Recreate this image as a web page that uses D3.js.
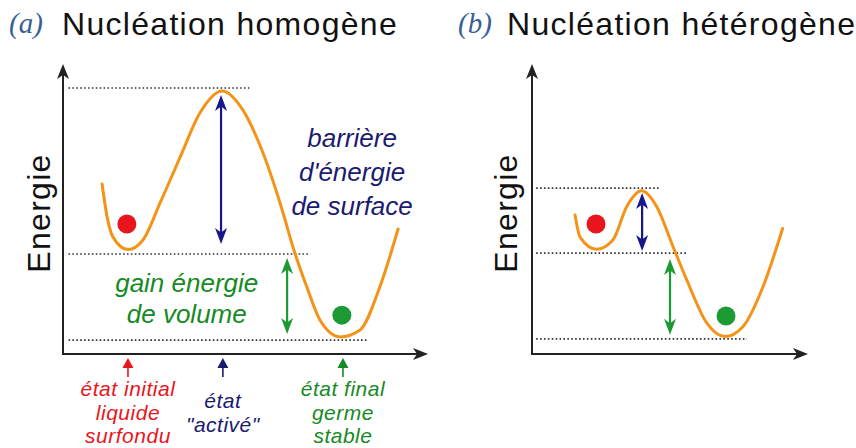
<!DOCTYPE html>
<html><head><meta charset="utf-8">
<script src="https://cdn.jsdelivr.net/npm/d3@7"></script>
<style>body{margin:0;background:#fff} svg{display:block}</style>
</head><body>
<svg id="c" width="856" height="448"></svg>
<script>
// ---------- data ----------
const panelTags = ["(a)", "(b)"];
const panelTitles = ["Nucléation homogène", "Nucléation hétérogène"];
const axisLabel = "Energie";
// curve points: reaction coordinate (0-100), energy (0-100)
const curveAx = [10.7, 12.1, 13.7, 17.8, 21.9, 26.6, 32.1, 37.5, 43.6, 49.3, 54.8, 60.3, 63.0, 66.8, 70.4, 75.9, 81.4, 86.8, 91.8];
const curveAy = [58.6, 47.2, 40.3, 36.0, 39.3, 52.1, 67.9, 83.1, 90.7, 84.1, 69.3, 48.6, 36.9, 23.1, 11.7, 5.9, 8.3, 23.1, 43.1];
const curveBx = [15.6, 17.4, 23.4, 29.3, 34.3, 39.7, 45.2, 51.1, 56.1, 63.3, 69.9, 76.4, 83.7, 90.8];
const curveBy = [47.9, 40.3, 36.1, 39.3, 50.8, 56.3, 50.8, 37.0, 25.5, 10.7, 6.0, 9.4, 23.2, 43.3];
// energy levels (final, initial, activated) and the reach of their dotted guides
const levelsA = [4.8, 34.5, 91.7];
const levelsB = [5.2, 34.8, 57.2];
const levelEndA = [83.6, 67.1, 51.2];
const levelEndB = [77.9, 56.5, 46.4];
// balls: initial (red), final (green)
const ballAx = [17.5, 76.4], ballAy = [44.8, 13.4];
const ballBx = [23.2, 70.3], ballBy = [44.8, 13.1];
// double arrows: barrier (blue), volume gain (green)
const arrowAx = [43.3, 61.4], arrowAlo = [37.9, 6.9], arrowAhi = [89.3, 33.1];
const arrowBx = [39.9, 50.0], arrowBlo = [35.5, 6.6], arrowBhi = [55.5, 32.8];
// annotations
const barrierText = ["barrière", "d'énergie", "de surface"];
const volumeText = ["gain énergie", "de volume"];
const stateLabels = [["état initial", "liquide", "surfondu"], ["état", "\"activé\""], ["état final", "germe", "stable"]];
const stateX = [17.8, 43.8, 76.7];

// ---------- style ----------
const C = {
  curve: "#f39318", red: "#e8161c", green: "#1c9a33", blue: "#17178c",
  navyText: "#1b1b70", greenText: "#168a24", axis: "#222", dots: "#333", tag: "#3a5f92"
};
const stateColors = [C.red, C.navyText, C.greenText];

const svg = d3.select("#c");
const yE = d3.scaleLinear().domain([0, 100]).range([354, 64]);
const xA = d3.scaleLinear().domain([0, 100]).range([63, 428]);
const xB = d3.scaleLinear().domain([0, 100]).range([532, 808]);

function head(g, x, y, dir, color, len, hw, notch) {
  g.append("path")
    .attr("d", `M0,0 L${-len},${-hw} L${-len + notch},0 L${-len},${hw} Z`)
    .attr("transform", `translate(${x},${y}) rotate(${dir})`)
    .attr("fill", color);
}

function panel(x, cx, cy, levels, levelEnd, bx, by, ax, alo, ahi, tag, title, tagX, titleX, labelX) {
  const g = svg.append("g");
  // axes
  g.append("line").attr("x1", x(0)).attr("y1", yE(0)).attr("x2", x(0)).attr("y2", yE(100) + 8)
    .attr("stroke", C.axis).attr("stroke-width", 2);
  g.append("line").attr("x1", x(0) - 1).attr("y1", yE(0)).attr("x2", x(100) - 8).attr("y2", yE(0))
    .attr("stroke", C.axis).attr("stroke-width", 2);
  head(g, x(0), yE(100), -90, C.axis, 15, 6, 4);
  head(g, x(100), yE(0), 0, C.axis, 15, 6, 4);
  // dotted levels
  g.selectAll(".lvl").data(levels).join("line")
    .attr("x1", x(1.5)).attr("x2", (d, i) => x(levelEnd[i]))
    .attr("y1", d => yE(d)).attr("y2", d => yE(d))
    .attr("stroke", C.dots).attr("stroke-width", 1.6).attr("stroke-dasharray", "1.6 2.3");
  // curve
  const line = d3.line().x(i => x(cx[i])).y(i => yE(cy[i])).curve(d3.curveMonotoneX);
  g.append("path").attr("d", line(d3.range(cx.length)))
    .attr("fill", "none").attr("stroke", C.curve).attr("stroke-width", 3).attr("stroke-linecap", "round");
  // balls
  g.selectAll(".ball").data(bx).join("circle")
    .attr("cx", d => x(d)).attr("cy", (d, i) => yE(by[i])).attr("r", 9.5)
    .attr("fill", (d, i) => i === 0 ? C.red : C.green);
  // double arrows
  ax.forEach((ux, i) => {
    const col = i === 0 ? C.blue : C.green;
    const px = x(ux), y0 = yE(alo[i]), y1 = yE(ahi[i]);
    g.append("line").attr("x1", px).attr("x2", px).attr("y1", y0 - 8).attr("y2", y1 + 8)
      .attr("stroke", col).attr("stroke-width", 2.2);
    head(g, px, y1, -90, col, 16, 6, 4.5);
    head(g, px, y0, 90, col, 16, 6, 4.5);
  });
  // titles
  svg.append("text").attr("x", tagX).attr("y", 33).text(tag)
    .attr("font-family", "Liberation Serif, serif").attr("font-style", "italic")
    .attr("font-size", 29).attr("fill", C.tag);
  svg.append("text").attr("x", titleX).attr("y", 35).text(title)
    .attr("font-family", "Liberation Sans, Arial, sans-serif")
    .attr("font-size", 32).attr("letter-spacing", 1.3).attr("fill", "#111");
  // y label
  svg.append("text").attr("transform", `translate(${labelX},213) rotate(-90)`)
    .attr("text-anchor", "middle").text(axisLabel)
    .attr("font-family", "Liberation Sans, Arial, sans-serif")
    .attr("font-size", 32).attr("letter-spacing", 1.3).attr("fill", "#111");
  return g;
}

const gA = panel(xA, curveAx, curveAy, levelsA, levelEndA, ballAx, ballAy, arrowAx, arrowAlo, arrowAhi,
  panelTags[0], panelTitles[0], 9, 62, 50);
panel(xB, curveBx, curveBy, levelsB, levelEndB, ballBx, ballBy, arrowBx, arrowBlo, arrowBhi,
  panelTags[1], panelTitles[1], 458, 507, 517);

// annotations (panel a)
const italic = sel => sel.attr("font-family", "Liberation Sans, Arial, sans-serif").attr("font-style", "italic");
barrierText.forEach((t, i) => {
  italic(gA.append("text")).attr("x", xA(79.2)).attr("y", 147 + 34 * i)
    .attr("text-anchor", "middle").attr("font-size", 26).attr("fill", C.navyText).text(t);
});
volumeText.forEach((t, i) => {
  italic(gA.append("text")).attr("x", xA(33.9)).attr("y", 292 + 31 * i)
    .attr("text-anchor", "middle").attr("font-size", 26).attr("fill", C.greenText).text(t);
});
stateLabels.forEach((lines, k) => {
  const px = xA(stateX[k]), col = stateColors[k];
  gA.append("line").attr("x1", px).attr("x2", px).attr("y1", 366).attr("y2", 377)
    .attr("stroke", col).attr("stroke-width", 1.6);
  gA.append("path").attr("d", `M${px},358 L${px - 5.5},368 L${px + 5.5},368 Z`).attr("fill", col);
  const y0 = lines.length === 2 ? 408 : 396;
  lines.forEach((t, i) => {
    italic(gA.append("text")).attr("x", px).attr("y", y0 + 23.5 * i)
      .attr("text-anchor", "middle").attr("font-size", 21).attr("letter-spacing", 0.5)
      .attr("fill", col).text(t);
  });
});
</script>
</body></html>
